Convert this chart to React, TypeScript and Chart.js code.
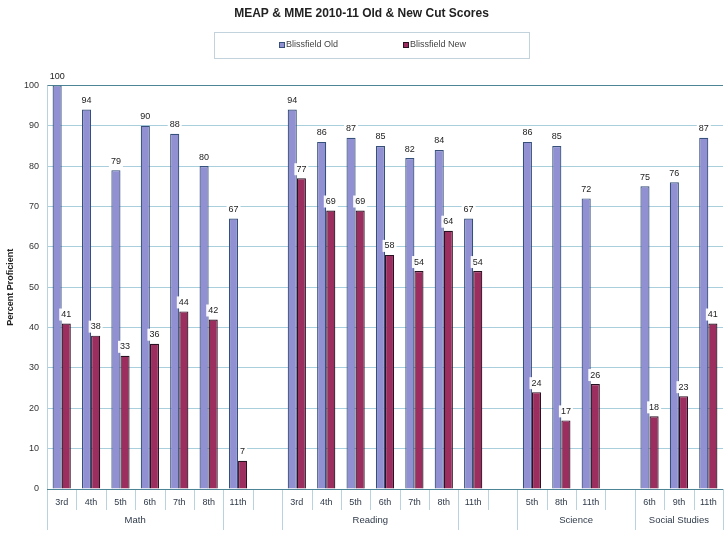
import React, { useEffect, useRef } from "react";
import { Chart, registerables } from "chart.js";

Chart.register(...registerables);

const grades = ["3rd", "4th", "5th", "6th", "7th", "8th", "11th", "", "3rd", "4th", "5th", "6th", "7th", "8th", "11th", "", "5th", "8th", "11th", "", "6th", "9th", "11th"];
const oldScores: (number | null)[] = [100, 94, 79, 90, 88, 80, 67, null, 94, 86, 87, 85, 82, 84, 67, null, 86, 85, 72, null, 75, 76, 87];
const newScores: (number | null)[] = [41, 38, 33, 36, 44, 42, 7, null, 77, 69, 69, 58, 54, 64, 54, null, 24, 17, 26, null, 18, 23, 41];
const groupNames = ["Math", "", "Reading", "", "Science", "Social Studies"];
const groupSizes = [6, 2, 6, 2, 4, 3];
const yTicks = [0, 10, 20, 30, 40, 50, 60, 70, 80, 90, 100];
const seriesNames = ["Blissfield Old", "Blissfield New"];
const seriesColors = ["#9090d2", "#9b2d5f"];
const seriesBorders = ["#35507a", "#2b1222"];

const FONT = "'Liberation Sans', Arial, sans-serif";

const decorPlugin = {
  id: "decor",
  afterDraw(chart: any) {
    const ctx = chart.ctx;
    const xs = chart.scales.x;
    const area = chart.chartArea;
    const bottom = area.bottom;
    const n = grades.length;
    const w = xs.getPixelForValue(1) - xs.getPixelForValue(0);
    const boundaries = new Set<number>();
    let acc = 0;
    boundaries.add(0);
    groupSizes.forEach((s) => { acc += s; boundaries.add(acc); });
    ctx.save();
    ctx.strokeStyle = "#b9d3de";
    ctx.lineWidth = 1;
    for (let i = 0; i <= n; i++) {
      const bx = Math.round(xs.getPixelForValue(Math.min(i, n - 1)) + (i === n ? w / 2 : -w / 2)) + 0.5;
      const len = boundaries.has(i) ? 41 : 21;
      ctx.beginPath();
      ctx.moveTo(bx, bottom);
      ctx.lineTo(bx, bottom + len);
      ctx.stroke();
    }
    // group labels
    ctx.fillStyle = "#2f3a4a";
    ctx.font = `9.5px ${FONT}`;
    ctx.textAlign = "center";
    ctx.textBaseline = "middle";
    let start = 0;
    groupNames.forEach((g, gi) => {
      const end = start + groupSizes[gi];
      const x0 = xs.getPixelForValue(start) - w / 2;
      const x1 = xs.getPixelForValue(end - 1) + w / 2;
      if (g) ctx.fillText(g, (x0 + x1) / 2, bottom + 31);
      start = end;
    });
    // left axis line
    ctx.strokeStyle = "#b9d3de";
    ctx.beginPath();
    ctx.moveTo(Math.round(area.left) + 0.5, area.top);
    ctx.lineTo(Math.round(area.left) + 0.5, bottom);
    ctx.stroke();
    // bottom axis line
    ctx.strokeStyle = "#4d8496";
    ctx.beginPath();
    ctx.moveTo(area.left, Math.round(bottom) + 0.5);
    ctx.lineTo(area.right, Math.round(bottom) + 0.5);
    ctx.stroke();
    // legend (box + items)
    const cx = chart.width / 2 + 8;
    const ly = 45;
    ctx.strokeStyle = "#c3d3de";
    ctx.strokeRect(Math.round(cx - 157) + 0.5, 32.5, 315, 26);
    ctx.font = `9px ${FONT}`;
    ctx.textAlign = "left";
    ctx.textBaseline = "middle";
    const itemX = [cx - 92, cx + 32];
    seriesNames.forEach((name, i) => {
      const bx = Math.round(itemX[i]);
      ctx.fillStyle = seriesColors[i];
      ctx.fillRect(bx, ly - 3, 6, 6);
      ctx.strokeStyle = seriesBorders[i];
      ctx.strokeRect(bx + 0.5, ly - 2.5, 5, 5);
      ctx.fillStyle = "#444";
      ctx.fillText(name, bx + 7, ly);
    });
    ctx.restore();
  },
  afterDatasetsDraw(chart: any) {
    const ctx = chart.ctx;
    ctx.save();
    ctx.font = `9px ${FONT}`;
    ctx.textAlign = "center";
    ctx.textBaseline = "middle";
    chart.data.datasets.forEach((ds: any, di: number) => {
      const meta = chart.getDatasetMeta(di);
      meta.data.forEach((bar: any, i: number) => {
        const v = ds.data[i];
        if (v === null || v === undefined) return;
        const t = String(v);
        const tw = ctx.measureText(t).width;
        const cy = bar.y - 9;
        ctx.fillStyle = "rgba(255,255,255,0.95)";
        ctx.fillRect(bar.x - tw / 2 - 2, cy - 6, tw + 4, 12);
        ctx.fillStyle = "#222";
        ctx.fillText(t, bar.x, cy);
      });
    });
    ctx.restore();
  },
};

export default function App() {
  const ref = useRef<HTMLCanvasElement>(null);
  useEffect(() => {
    if (!ref.current) return;
    const chart = new Chart(ref.current, {
      type: "bar",
      data: {
        labels: grades,
        datasets: [
          {
            label: seriesNames[0],
            data: oldScores,
            backgroundColor: seriesColors[0],
            borderColor: seriesBorders[0],
            borderWidth: 1.2,
            categoryPercentage: 0.62,
            barPercentage: 1,
          },
          {
            label: seriesNames[1],
            data: newScores,
            backgroundColor: seriesColors[1],
            borderColor: seriesBorders[1],
            borderWidth: 1.2,
            categoryPercentage: 0.62,
            barPercentage: 1,
          },
        ],
      },
      options: {
        animation: false,
        responsive: false,
        maintainAspectRatio: false,
        layout: { padding: { left: 0, right: 2, top: 0, bottom: 0 } },
        plugins: {
          title: {
            display: true,
            text: "MEAP & MME 2010-11 Old & New Cut Scores",
            font: { family: FONT, size: 12, weight: "bold" },
            color: "#222",
            padding: { top: 6, bottom: 65 },
          },
          legend: { display: false },
          tooltip: { enabled: false },
        },
        scales: {
          x: {
            grid: { display: false, drawTicks: false },
            border: { display: false },
            ticks: {
              font: { family: FONT, size: 9 },
              color: "#2f3a4a",
              padding: 8,
              maxRotation: 0,
              autoSkip: false,
            },
            afterFit(scale: any) {
              scale.height = 65;
            },
          },
          y: {
            min: 0,
            max: 100,
            afterBuildTicks(scale: any) {
              scale.ticks = yTicks.map((v) => ({ value: v }));
            },
            grid: {
              color: (c: any) => (c.tick && c.tick.value === 100 ? "#4d8496" : "#a9cfdc"),
              drawTicks: false,
            },
            border: { display: false },
            ticks: {
              font: { family: FONT, size: 9 },
              color: "#333",
              padding: 8,
            },
            title: {
              display: true,
              text: "Percent Proficient",
              font: { family: FONT, size: 9, weight: "bold" },
              color: "#222",
              padding: { top: 5, bottom: 0 },
            },
            afterFit(scale: any) {
              scale.width = 47;
            },
          },
        },
      },
      plugins: [decorPlugin],
    });
    return () => chart.destroy();
  }, []);
  return (
    <div style={{ position: "fixed", left: 0, top: 0, width: 725, height: 554, background: "#fff" }}>
      <canvas ref={ref} width={725} height={554} style={{ width: 725, height: 554 }} />
    </div>
  );
}
